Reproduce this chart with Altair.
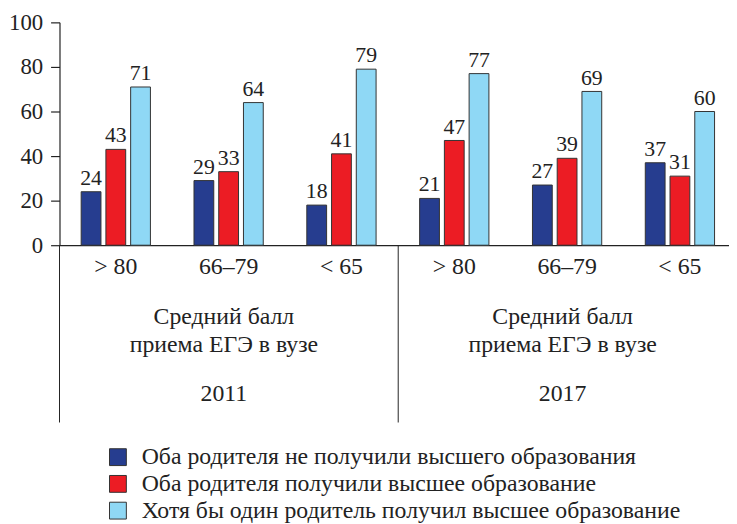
import altair as alt
import pandas as pd

years = ["2011", "2017"]
bands = ["> 80", "66–79", "< 65"]
series = [
    "Оба родителя не получили высшего образования",
    "Оба родителя получили высшее образование",
    "Хотя бы один родитель получил высшее образование",
]
colors = ["#263d8f", "#ec1c24", "#8fd8f5"]
vals_none = [24, 29, 18, 21, 27, 37]
vals_both = [43, 33, 41, 47, 39, 31]
vals_one = [71, 64, 79, 77, 69, 60]
y_ticks = [0, 20, 40, 60, 80, 100]
group_text = ["Средний балл", "приема ЕГЭ в вузе"]

keys = [f"{y}|{b}" for y in years for b in bands]
rows = []
for s, vals in zip(series, [vals_none, vals_both, vals_one]):
    for k, v in zip(keys, vals):
        rows.append({"key": k, "series": s, "value": v})
df = pd.DataFrame(rows)

W, H = 676, 225
STEP = 114
FONT = "Liberation Serif"
INK = "#222222"

xscale = alt.Scale(paddingInner=0.386, paddingOuter=0.16, align=0.6)
xoff = alt.XOffset("series:N", sort=series, scale=alt.Scale(paddingInner=0.2, paddingOuter=0))
yq = alt.Y(
    "value:Q",
    scale=alt.Scale(domain=[0, 100], nice=False),
    axis=alt.Axis(values=y_ticks, title=None, grid=False, tickSize=9, labelPadding=8,
                  labelFont=FONT, labelFontSize=23, labelColor=INK,
                  domainColor=INK, tickColor=INK, domainWidth=1.2, tickWidth=1.2),
)
color = alt.Color(
    "series:N", sort=series,
    scale=alt.Scale(domain=series, range=colors),
    legend=alt.Legend(orient="none", legendX=47, legendY=427, title=None, direction="vertical",
                      symbolType="square", symbolSize=289, symbolStrokeColor="#333",
                      symbolStrokeWidth=1, symbolOpacity=1, labelFont=FONT, labelFontSize=24,
                      labelColor=INK, labelLimit=0, rowPadding=3, labelOffset=12),
)

bars = alt.Chart(df).mark_bar(stroke="#333", strokeWidth=1).encode(
    x=alt.X("key:N", sort=keys, scale=xscale,
            axis=alt.Axis(title=None, labelExpr="split(datum.label, '|')[1]", ticks=False,
                          labelAngle=0, labelFont=FONT, labelFontSize=24, labelColor=INK,
                          labelPadding=10, domainColor=INK, domainWidth=1.2)),
    xOffset=xoff, y=yq, color=color,
)
vlabels = alt.Chart(df).mark_text(baseline="bottom", dy=-2, font=FONT, fontSize=22, color=INK).encode(
    x=alt.X("key:N", sort=keys, scale=xscale),
    xOffset=xoff, y=yq, text="value:Q",
)
inner = alt.layer(bars, vlabels)

xq = alt.X("pos:Q", scale=alt.Scale(domain=[0, W / STEP], nice=False, zero=False), axis=None)
sep_df = pd.DataFrame({"pos": [0, 3]})
rules = alt.Chart(sep_df).mark_rule(color=INK, strokeWidth=1).encode(
    x=xq, y=alt.value(H), y2=alt.value(H + 179)
)
desc_df = pd.DataFrame({"pos": [1.5, 4.5], "label": ["\n".join(group_text)] * 2})
desc = alt.Chart(desc_df).mark_text(
    lineBreak="\n", lineHeight=28, baseline="alphabetic", dx=-5, font=FONT, fontSize=24, color=INK
).encode(x=xq, y=alt.value(H + 80), text="label:N")
year_df = pd.DataFrame({"pos": [1.5, 4.5], "label": years})
yrs = alt.Chart(year_df).mark_text(baseline="alphabetic", dx=-5, font=FONT, fontSize=24, color=INK).encode(
    x=xq, y=alt.value(H + 157), text="label:N"
)

chart = (
    alt.layer(inner, rules, desc, yrs)
    .resolve_scale(x="independent")
    .properties(width=W, height=H, padding={"left": 0, "top": 1, "right": 0, "bottom": 0})
    .configure_view(stroke=None)
)
chart.save("out.html", embed_options={"renderer": "svg", "actions": False})
